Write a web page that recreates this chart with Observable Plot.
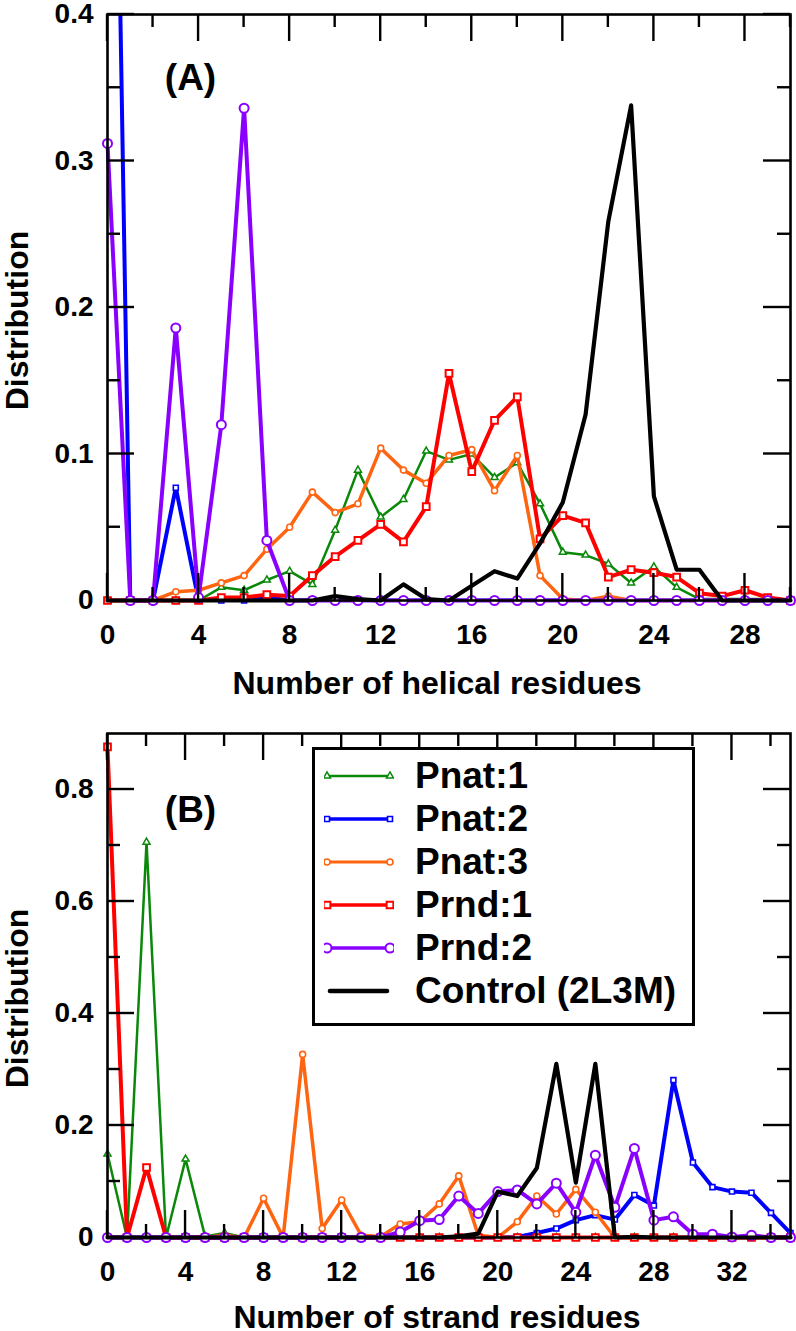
<!DOCTYPE html>
<html>
<head>
<meta charset="utf-8">
<script src="https://cdn.jsdelivr.net/npm/d3@7"></script>
<script src="https://cdn.jsdelivr.net/npm/@observablehq/plot@0.6"></script>
<style>
  body { margin: 0; background: #fff; font-family: "Liberation Sans", Arial, sans-serif; }
  #wrap { position: relative; width: 796px; height: 1331px; overflow: hidden; background: #fff; }
  #panelA, #panelB { position: absolute; left: 0; }
  #panelA { top: 0; }
  #panelB { top: 712px; }
  #legend {
    position: absolute; left: 312px; top: 747px; width: 377px; height: 269px;
    border: 3px solid #000; background: #fff; padding-top: 4px; box-sizing: content-box;
  }
  #legend .row { display: flex; align-items: center; height: 43px; }
  #legend .row svg { margin-left: 9px; flex: none; }
  #legend .row span { margin-left: 21px; font-weight: bold; font-size: 37px; line-height: 43px; white-space: nowrap; color: #000; }
</style>
</head>
<body>
<div id="wrap">
  <div id="panelA"></div>
  <div id="panelB"></div>
  <div id="legend"></div>
</div>
<script>
// ---------- data ----------
const seriesNames = ["Pnat:1", "Pnat:2", "Pnat:3", "Prnd:1", "Prnd:2", "Control (2L3M)"];
const seriesColors = ["#0a880a", "#0000ff", "#ff6410", "#ff0000", "#8a00ff", "#000000"];
const seriesSymbols = ["triangle", "square", "circle", "square", "circle", null];

const helicalResidues = [0,1,2,3,4,5,6,7,8,9,10,11,12,13,14,15,16,17,18,19,20,21,22,23,24,25,26,27,28,29,30];
const helixPnat1 = [0,0,0,0,0,0.009,0.007,0.014,0.020,0.011,0.048,0.089,0.057,0.069,0.102,0.096,0.100,0.084,0.094,0.066,0.033,0.031,0.025,0.012,0.023,0.009,0.001,0.001,0.001,0.001,0];
const helixPnat2 = [0.92,0,0,0.077,0,0,0,0.002,0,0,0,0,0,0,0,0,0,0,0,0,0,0,0,0,0,0,0,0,0,0,0];
const helixPnat3 = [0,0,0,0.006,0.007,0.012,0.017,0.035,0.050,0.074,0.060,0.066,0.104,0.089,0.080,0.099,0.103,0.075,0.099,0.017,0.001,0,0.003,0,0,0,0,0,0,0,0];
const helixPrnd1 = [0,0,0,0,0,0.002,0.002,0.004,0.003,0.017,0.030,0.041,0.052,0.040,0.064,0.155,0.088,0.123,0.139,0.042,0.058,0.053,0.016,0.021,0.019,0.016,0.005,0.003,0.007,0.002,0];
const helixPrnd2 = [0.312,0,0,0.186,0.002,0.120,0.336,0.041,0,0,0,0,0,0,0,0,0,0,0,0,0,0,0,0,0,0,0,0,0,0,0];
const helixControl = [0,0,0,0,0,0,0,0,0,0,0.003,0.001,0,0.011,0.001,0,0.010,0.020,0.015,0.039,0.067,0.127,0.259,0.338,0.071,0.021,0.021,0,0,0,0];

const strandResidues = [0,1,2,3,4,5,6,7,8,9,10,11,12,13,14,15,16,17,18,19,20,21,22,23,24,25,26,27,28,29,30,31,32,33,34,35];
const strandPnat1 = [0.149,0,0.706,0,0.140,0.002,0.008,0,0,0,0,0,0,0,0,0,0,0,0,0,0,0,0,0,0,0,0,0,0,0,0,0,0,0,0,0];
const strandPnat2 = [0,0,0,0,0,0,0,0,0,0,0,0,0,0,0,0,0,0,0,0,0,0.001,0.008,0.016,0.031,0.040,0.032,0.076,0.057,0.281,0.134,0.090,0.082,0.080,0.044,0.008];
const strandPnat3 = [0,0,0,0,0,0,0.004,0,0.070,0,0.327,0.016,0.067,0.004,0.002,0.024,0.028,0.060,0.110,0.004,0,0.028,0.074,0.042,0.086,0.045,0,0,0,0,0,0,0,0,0,0];
const strandPrnd1 = [0.876,0,0.125,0,0,0,0,0,0,0,0,0,0,0,0,0,0,0,0,0,0,0,0,0,0,0,0,0,0,0,0,0,0,0,0,0];
const strandPrnd2 = [0,0,0,0,0,0,0,0,0,0,0,0,0,0,0,0.010,0.030,0.032,0.074,0.043,0.082,0.085,0.060,0.097,0.045,0.147,0.054,0.159,0.031,0.037,0.006,0.006,0.001,0.004,0,0];
const strandControl = [0,0,0,0,0,0,0,0,0,0,0,0,0,0,0,0,0,0,0.002,0.007,0.082,0.074,0.124,0.310,0.098,0.310,0,0.001,0,0,0,0,0,0,0,0];

const helixXMajor = [0,4,8,12,16,20,24,28];
const helixXMinor = [2,6,10,14,18,22,26,30];
const helixYMajor = [0,0.1,0.2,0.3,0.4];
const helixYMinor = [0.05,0.15,0.25,0.35];
const strandXMajor = [0,4,8,12,16,20,24,28,32];
const strandXMinor = [2,6,10,14,18,22,26,30,34];
const strandYMajor = [0,0.2,0.4,0.6,0.8];
const strandYMinor = [0.1,0.3,0.5,0.7];

// ---------- styles ----------
const lineWidths = [2.5, 4, 3.5, 4, 4, 4.2];
const markerR = [2.6, 2.8, 3, 3.8, 4.5, 0];
const markerSW = [1.5, 1.6, 1.6, 2, 2, 0];
const FONT = "Liberation Sans";

function makePanel(cfg) {
  const W = 796, mL = 107, mR = 6;
  const marks = [];
  cfg.values.forEach((vals, i) => {
    const rows = cfg.xs.map((x, j) => ({x, y: vals[j]}));
    const clip = vals.some(v => v > cfg.yDomain[1]);
    marks.push(Plot.line(rows, {x: "x", y: "y", stroke: seriesColors[i], strokeWidth: lineWidths[i], clip}));
    if (seriesSymbols[i]) {
      marks.push(Plot.dot(rows.filter(d => d.y <= cfg.yDomain[1]), {
        x: "x", y: "y", symbol: seriesSymbols[i], r: markerR[i],
        fill: "white", stroke: seriesColors[i], strokeWidth: markerSW[i]
      }));
    }
  });
  marks.push(Plot.frame({stroke: "black", strokeWidth: 2.6}));
  marks.push(Plot.axisX(cfg.xMajor, {anchor: "bottom", tickSize: 0, tickPadding: 24, fontSize: 28, label: null, tickFormat: d => String(d)}));
  marks.push(Plot.axisY(cfg.yMajor, {anchor: "left", tickSize: 0, tickPadding: 14, fontSize: 28, label: null, tickFormat: d => String(d)}));
  marks.push(Plot.text([cfg.xLabel], {frameAnchor: "bottom", textAnchor: "middle", dx: -12, dy: cfg.xLabelDy, lineAnchor: "bottom", fontSize: 32}));
  marks.push(Plot.text(["Distribution"], {frameAnchor: "left", textAnchor: "middle", lineAnchor: "middle", dx: -90, dy: 13, rotate: -90, fontSize: 32}));
  marks.push(Plot.text([cfg.tag], {frameAnchor: "top-left", textAnchor: "middle", lineAnchor: "middle", dx: 83, dy: cfg.tagDy, fontSize: 37}));
  const svg = Plot.plot({
    width: W, height: cfg.height,
    marginTop: cfg.marginTop, marginBottom: cfg.marginBottom, marginLeft: mL, marginRight: mR,
    x: {domain: cfg.xDomain},
    y: {domain: cfg.yDomain},
    style: {fontFamily: FONT, fontWeight: "bold", background: "white", color: "black"},
    marks
  });

  // inward ticks on all four sides, positioned through the plot's own x and y scales
  try {
    const sx = svg.scale("x").apply, sy = svg.scale("y").apply;
    const X0 = sx(cfg.xDomain[0]), X1 = sx(cfg.xDomain[1]);
    const Y0 = sy(cfg.yDomain[0]), Y1 = sy(cfg.yDomain[1]);
    const g = d3.select(svg).append("g").attr("stroke", "black").attr("stroke-width", 2.4).attr("fill", "none");
    const seg = (x1, y1, x2, y2) => g.append("line").attr("x1", x1).attr("y1", y1).attr("x2", x2).attr("y2", y2);
    [[cfg.xMajor, 27], [cfg.xMinor, 13]].forEach(([vals, L]) => vals.forEach(v => {
      const px = sx(v);
      seg(px, Y0, px, Y0 - L);
      seg(px, Y1, px, Y1 + L);
    }));
    [[cfg.yMajor, 27], [cfg.yMinor, 13]].forEach(([vals, L]) => vals.forEach(v => {
      const py = sy(v);
      seg(X0, py, X0 + L, py);
      seg(X1, py, X1 - L, py);
    }));
  } catch (e) { /* ticks are decorative */ }
  return svg;
}

document.getElementById("panelA").appendChild(makePanel({
  xs: helicalResidues,
  values: [helixPnat1, helixPnat2, helixPnat3, helixPrnd1, helixPrnd2, helixControl],
  xDomain: [0, 30], yDomain: [0, 0.4],
  xMajor: helixXMajor, xMinor: helixXMinor, yMajor: helixYMajor, yMinor: helixYMinor,
  height: 712, marginTop: 14, marginBottom: 112,
  xLabel: "Number of helical residues", xLabelDy: 93, tag: "(A)", tagDy: 64
}));

document.getElementById("panelB").appendChild(makePanel({
  xs: strandResidues,
  values: [strandPnat1, strandPnat2, strandPnat3, strandPrnd1, strandPrnd2, strandControl],
  xDomain: [0, 35], yDomain: [0, 0.9],
  xMajor: strandXMajor, xMinor: strandXMinor, yMajor: strandYMajor, yMinor: strandYMinor,
  height: 619, marginTop: 21, marginBottom: 94,
  xLabel: "Number of strand residues", xLabelDy: 90, tag: "(B)", tagDy: 77
}));

// ---------- legend ----------
const legend = d3.select("#legend");
seriesNames.forEach((name, i) => {
  const row = legend.append("div").attr("class", "row");
  const svg = row.append("svg").attr("width", 70).attr("height", 20);
  const sw = seriesSymbols[i] ? Math.max(2.6, lineWidths[i] - 0.6) : 4.6;
  svg.append("line")
    .attr("x1", seriesSymbols[i] ? 3 : 6).attr("x2", seriesSymbols[i] ? 66 : 63)
    .attr("y1", 10).attr("y2", 10)
    .attr("stroke", seriesColors[i]).attr("stroke-width", sw)
    .attr("stroke-linecap", seriesSymbols[i] ? "butt" : "round");
  if (seriesSymbols[i]) {
    const sym = {triangle: d3.symbolTriangle, square: d3.symbolSquare, circle: d3.symbolCircle}[seriesSymbols[i]];
    const path = d3.symbol(sym, Math.PI * markerR[i] * markerR[i])();
    [3, 66].forEach(cx => svg.append("path").attr("d", path)
      .attr("transform", `translate(${cx},10)`)
      .attr("fill", "white").attr("stroke", seriesColors[i]).attr("stroke-width", markerSW[i]));
  }
  row.append("span").text(name);
});
</script>
</body>
</html>
